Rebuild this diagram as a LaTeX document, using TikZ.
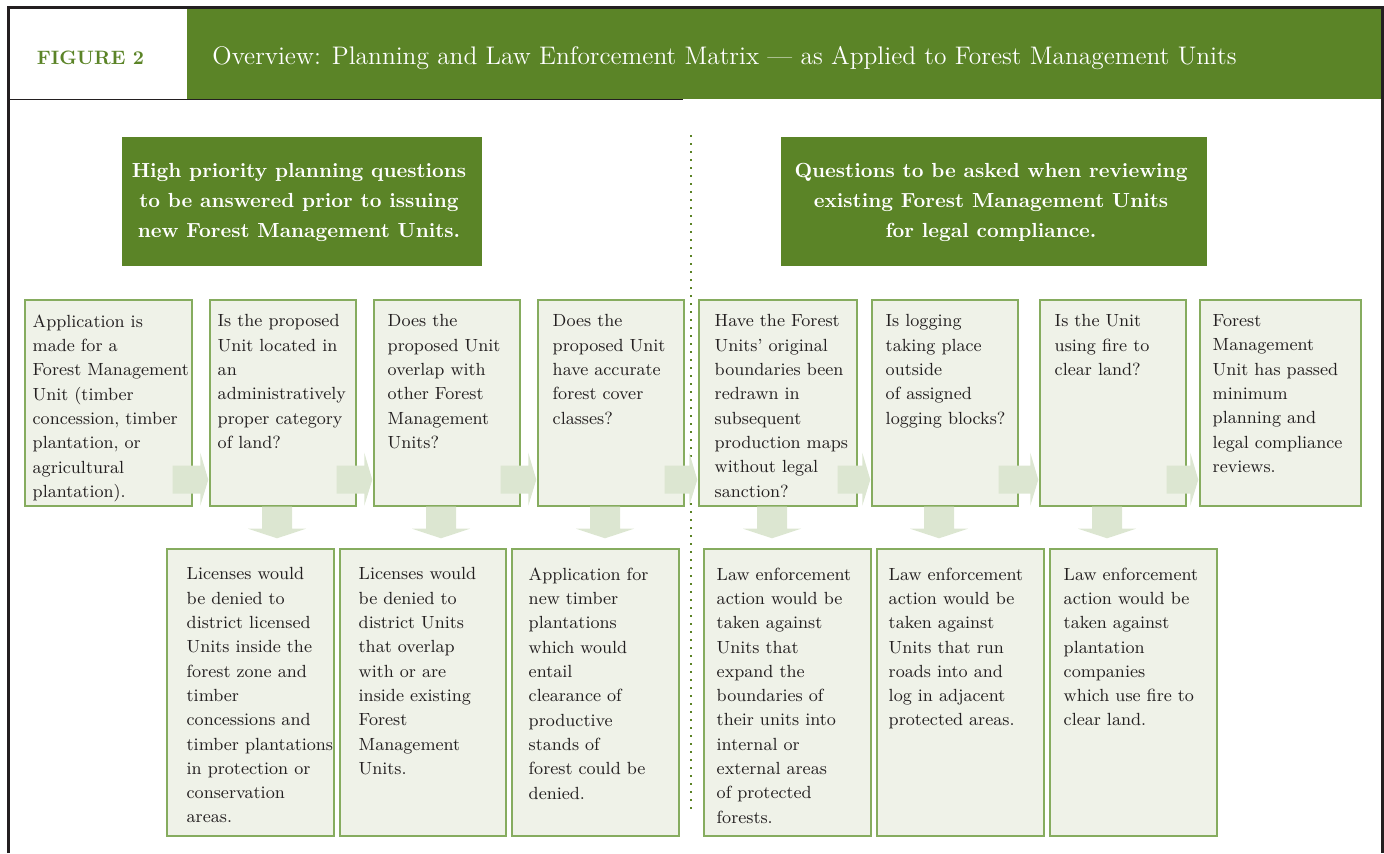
\documentclass[tikz,border=0pt]{standalone}
\usetikzlibrary{positioning, calc, fit}
\definecolor{verde}{HTML}{5B8427}
\definecolor{verdeborde}{HTML}{86AC5F}
\definecolor{verdepalido}{HTML}{EFF2E8}
\definecolor{verdeflecha}{HTML}{DCE6D1}
\definecolor{tinta}{HTML}{231F20}
\tikzset{
  pregunta/.style={rectangle, draw=verdeborde, fill=verdepalido, line width=0.7pt, inner sep=0pt},
  texto/.style={anchor=north west, align=left, inner sep=0pt, text=tinta,
                font=\fontsize{8.8}{12.15}\selectfont},
  cabecera/.style={rectangle, fill=verde, inner sep=0pt},
  cabtexto/.style={align=center, text=white, font=\fontsize{10.2}{15}\selectfont\bfseries},
  flecha/.style={fill=verdeflecha},
  divisor/.style={draw=verde, line width=1.1pt, dash pattern=on 1.1pt off 2.9pt},
  marco/.style={draw=tinta, line width=1.5pt}
}
% wide arrow from one box to the next one on its right
\newcommand{\flechader}[2]{%
  \fill[flecha] ($(#1.south east)+(-20,-13)$) -- ($(#2.south west)+(-9,-13)$)
    -- ($(#2.south west)+(-9,-1)$) -- ($(#2.south west)+(-1,-27)$)
    -- ($(#2.south west)+(-9,-54)$) -- ($(#2.south west)+(-9,-41)$)
    -- ($(#1.south east)+(-20,-41)$) -- cycle;}
% wide arrow from a question down to its consequence
\newcommand{\flechaabajo}[2]{%
  \fill[flecha] ($(#1.south)+(-21,0)$) -- ($(#1.south)+(9,0)$) -- ($(#1.south)+(9,22)$)
    -- ($(#1.south)+(23,22)$) -- ($(#1.south |- #2.north)+(-6,-10)$)
    -- ($(#1.south)+(-35,22)$) -- ($(#1.south)+(-21,22)$) -- cycle;}

\begin{document}
\begin{tikzpicture}[x=0.5pt, y=-0.5pt]
  \useasboundingbox (0,0) rectangle (1384,853);

  % title bar
  \node (banda) [cabecera, fit={(187,8) (1382,99)}] {};
  \node (figura) [anchor=base, inner sep=0pt, text=verde, font=\fontsize{9.7}{12}\selectfont\bfseries] at (90.5,64) {FIGURE 2};
  \node (titulo) [anchor=base west, inner sep=0pt, text=white, font=\fontsize{12.7}{14}\selectfont] at (212,64)
    {Overview: Planning and Law Enforcement Matrix --- as Applied to Forest Management Units};
  \draw [marco] (8,853) -- (8,7) -- (1382,7) -- (1382,853);
  \draw [tinta, line width=0.75pt] (8,99.5) -- (683,99.5);

  % the two column headings
  \node (planes) [cabecera, fit={(122,137) (482,266)}] {};
  \node at ($(planes.center)+(-3,1)$) [cabtexto] {High priority planning questions\\ to be answered prior to issuing\\ new Forest Management Units.};
  \node (revision) [cabecera, fit={(781,137) (1207,266)}] {};
  \node at ($(revision.center)+(-3,1)$) [cabtexto] {Questions to be asked when reviewing\\ existing Forest Management Units\\ for legal compliance.};

  % questions
  \node (q1) [pregunta, fit={(25,300) (192,506)}] {};
  \node at ($(q1.north west)+(8,15)$) [texto] {Application is\\ made for a\\ Forest Management\\ Unit (timber\\ concession, timber\\ plantation, or\\ agricultural\\ plantation).};
  \node (q2) [pregunta, fit={(210,300) (356,506)}] {};
  \node at ($(q2.north west)+(8,15)$) [texto] {Is the proposed\\ Unit located in\\ an\\ administratively\\ proper category\\ of land?};
  \node (q3) [pregunta, fit={(374,300) (520,506)}] {};
  \node at ($(q3.north west)+(14,15)$) [texto] {Does the\\ proposed Unit\\ overlap with\\ other Forest\\ Management\\ Units?};
  \node (q4) [pregunta, fit={(538,300) (684,506)}] {};
  \node at ($(q4.north west)+(15,15)$) [texto] {Does the\\ proposed Unit\\ have accurate\\ forest cover\\ classes?};
  \node (q5) [pregunta, fit={(699,300) (857,506)}] {};
  \node at ($(q5.north west)+(16,15)$) [texto] {Have the Forest\\ Units' original\\ boundaries been\\ redrawn in\\ subsequent\\ production maps\\ without legal\\ sanction?};
  \node (q6) [pregunta, fit={(872,300) (1018,506)}] {};
  \node at ($(q6.north west)+(14,15)$) [texto] {Is logging\\ taking place\\ outside\\ of assigned\\ logging blocks?};
  \node (q7) [pregunta, fit={(1040,300) (1186,506)}] {};
  \node at ($(q7.north west)+(15,15)$) [texto] {Is the Unit\\ using fire to\\ clear land?};
  \node (q8) [pregunta, fit={(1200,300) (1361,506)}] {};
  \node at ($(q8.north west)+(13,15)$) [texto] {Forest\\ Management\\ Unit has passed\\ minimum\\ planning and\\ legal compliance\\ reviews.};

  % what follows from a wrong answer
  \node (r2) [pregunta, fit={(167,549) (334,836)}] {};
  \node at ($(r2.north west)+(20,19)$) [texto] {Licenses would\\ be denied to\\ district licensed\\ Units inside the\\ forest zone and\\ timber\\ concessions and\\ timber plantations\\ in protection or\\ conservation\\ areas.};
  \node (r3) [pregunta, fit={(340,549) (506,836)}] {};
  \node at ($(r3.north west)+(19,19)$) [texto] {Licenses would\\ be denied to\\ district Units\\ that overlap\\ with or are\\ inside existing\\ Forest\\ Management\\ Units.};
  \node (r4) [pregunta, fit={(512,549) (679,836)}] {};
  \node at ($(r4.north west)+(17,19)$) [texto] {Application for\\ new timber\\ plantations\\ which would\\ entail\\ clearance of\\ productive\\ stands of\\ forest could be\\ denied.};
  \node (r5) [pregunta, fit={(704,549) (871,836)}] {};
  \node at ($(r5.north west)+(13,19)$) [texto] {Law enforcement\\ action would be\\ taken against\\ Units that\\ expand the\\ boundaries of\\ their units into\\ internal or\\ external areas\\ of protected\\ forests.};
  \node (r6) [pregunta, fit={(877,549) (1044,836)}] {};
  \node at ($(r6.north west)+(12,19)$) [texto] {Law enforcement\\ action would be\\ taken against\\ Units that run\\ roads into and\\ log in adjacent\\ protected areas.};
  \node (r7) [pregunta, fit={(1050,549) (1217,836)}] {};
  \node at ($(r7.north west)+(14,19)$) [texto] {Law enforcement\\ action would be\\ taken against\\ plantation\\ companies\\ which use fire to\\ clear land.};

  % planning | review divider
  \coordinate (divarriba) at (691,135);
  \coordinate (divabajo) at (691,813);
  \draw [divisor] (divarriba) -- (divabajo);

  % arrows
  \flechader{q1}{q2}
  \flechader{q2}{q3}
  \flechader{q3}{q4}
  \flechader{q4}{q5}
  \flechader{q5}{q6}
  \flechader{q6}{q7}
  \flechader{q7}{q8}
  \flechaabajo{q2}{r2}
  \flechaabajo{q3}{r3}
  \flechaabajo{q4}{r4}
  \flechaabajo{q5}{r5}
  \flechaabajo{q6}{r6}
  \flechaabajo{q7}{r7}
\end{tikzpicture}
\end{document}
